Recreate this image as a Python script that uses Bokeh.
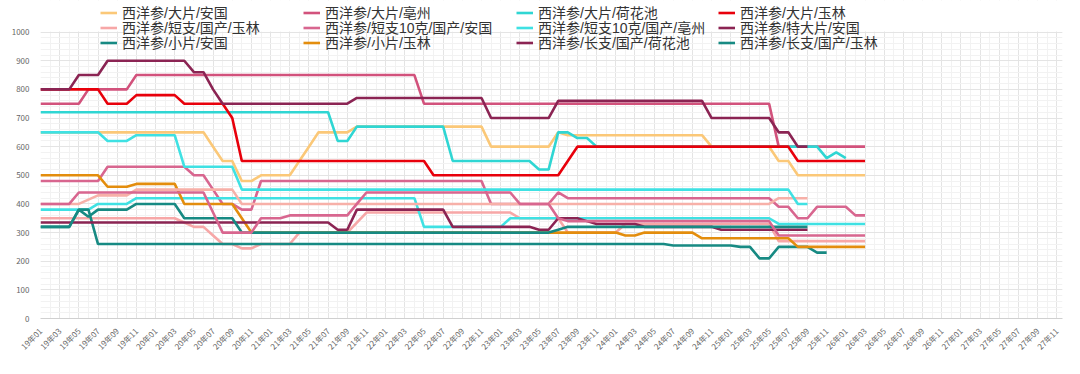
import numpy as np
from math import pi
from bokeh.plotting import figure
from bokeh.models import ColumnDataSource, Legend, LegendItem, Range1d, FixedTicker, BoxAnnotation
from bokeh.embed import file_html
from bokeh.resources import INLINE

# ---- categories (months) ----
months = [f"{y:02d}年{m:02d}" for y in range(19, 28) for m in range(1, 13)]
N = 87  # data through 26年03
x_idx = list(range(N))
_ = None

# ---- series values (元/kg), one value per month from 19年01 ----
s_da_anguo = [650,650,650,650,650,650,650,650,650,650,650,650,650,650,650,650,650,650,
              600,550,550,480,480,500,500,500,500,550,600,650,650,650,650,
              670,670,670,670,670,670,670,670,670,670,670,670,670,670,
              600,600,600,600,600,600,600,650,
              640,640,640,640,640,640,640,640,640,640,640,640,640,640,640,
              600,600,600,600,600,600,600,550,550,
              500,500,500,500,500,500,500,500]
s_da_bozhou = [750,750,750,750,750,800,800,800,800,800,
               850,850,850,850,850,850,850,850,850,850,850,850,850,850,850,850,850,850,850,850,
               850,850,850,850,850,850,850,850,850,850,
               750,750,750,750,750,750,750,750,750,750,750,750,750,750,750,750,750,750,750,750,
               750,750,750,750,750,750,750,750,750,750,750,750,750,750,750,750,750,
               600,600,600,600,600,600,600,600,600,600]
s_da_hehuachi = [720,720,720,720,720,720,720,720,720,720,720,720,720,720,720,720,720,720,720,720,
                 720,720,720,720,720,720,720,720,720,720,720,
                 620,620,670,670,670,670,670,670,670,670,670,670,
                 550,550,550,550,550,550,550,550,550,520,520,650,650,630,630,
                 600,600,600,600,600,600,600,600,600,600,600,600,600,600,600,600,600,600,600,600,
                 600,600,600,600,560,580,560,_,_]
s_da_yulin = [800,800,800,800,800,800,800,750,750,750,780,780,780,780,780,
              750,750,750,750,750,700,
              550,550,550,550,550,550,550,550,550,550,550,550,550,550,550,550,550,550,550,550,
              500,500,500,500,500,500,500,500,500,500,500,500,500,500,550,
              600,600,600,600,600,600,600,600,600,600,600,600,600,600,600,600,600,600,600,600,
              600,600,600,550,550,550,550,550,550,550,550]
s_duan_yulin = [350,350,350,350,350,350,350,350,350,350,350,350,350,350,350,335,320,320,290,
                260,260,245,245,260,260,260,260,300,300,300,300,300,300,335,
                370,370,370,370,370,370,370,370,370,370,370,370,370,370,370,370,
                350,350,350,350,350,300,300,300,300,300,300,
                330,330,330,330,330,330,330,330,330,330,330,330,330,330,330,330,
                270,270,270,270,270,270,270,270,270,270]
s_duan10_anguo = [480,480,480,480,480,480,480,530,530,530,530,530,530,530,530,530,500,500,450,
                  400,400,380,380,
                  480,480,480,480,480,480,480,480,480,480,480,480,480,480,480,480,480,480,480,480,
                  480,480,480,480,
                  400,400,400,400,400,400,400,440,
                  420,420,420,420,420,420,420,420,420,420,420,420,420,420,420,420,420,420,420,420,
                  420,420,390,390,350,350,390,390,390,390,360,360]
s_duan10_bozhou = [380,380,380,380,380,380,400,400,400,400,
                   420,420,420,420,420,420,420,420,420,420,420,420,420,420,420,420,420,420,420,420,
                   420,420,420,420,420,420,420,420,420,420,
                   320,320,320,320,320,320,320,320,320,
                   350,350,350,350,350,350,350,350,350,350,350,350,350,350,350,350,350,350,350,350,
                   350,350,350,350,350,350,350,350,
                   330,330,330,330,330,330,330,330,330,330]
s_teda_anguo = [800,800,800,800,850,850,850,900,900,900,900,900,900,900,900,900,860,860,800,
                750,750,750,750,750,750,750,750,750,750,750,750,750,750,
                770,770,770,770,770,770,770,770,770,770,770,770,770,770,
                700,700,700,700,700,700,700,
                760,760,760,760,760,760,760,760,760,760,760,760,760,760,760,760,
                700,700,700,700,700,700,700,650,650,600,600,_,_,_,_,_,_]
s_xiao_anguo = [320,320,320,320,380,380,
                260,260,260,260,260,260,260,260,260,260,260,260,260,260,260,260,260,260,260,260,
                260,260,260,260,260,260,260,260,260,260,260,260,260,260,260,260,260,260,260,260,
                260,260,260,260,260,260,260,260,260,260,260,260,260,260,260,260,260,260,260,260,
                255,255,255,255,255,255,255,250,250,210,210,250,250,250,250,230,230]
s_xiao_yulin = [500,500,500,500,500,500,500,460,460,460,470,470,470,470,470,
                400,400,400,400,400,400,350,
                300,300,300,300,300,300,300,300,300,300,300,300,300,300,300,300,300,300,300,300,
                300,300,300,300,300,300,300,300,300,300,300,300,300,300,300,300,300,300,300,
                290,290,300,300,300,300,300,300,
                280,280,280,280,280,280,280,280,280,280,
                250,250,250,250,250,250,250,250]
s_chang_hehuachi = [335,335,335,335,335,335,335,335,335,335,335,335,335,335,335,335,335,335,335,335,
                    335,335,335,335,335,335,335,335,335,335,335,310,310,
                    380,380,380,380,380,380,380,380,380,380,
                    320,320,320,320,320,320,320,320,320,310,310,350,350,350,340,
                    330,330,330,330,330,320,320,320,320,320,320,320,320,
                    310,310,310,310,310,310,310,310,310,310,_,_,_,_,_,_]
s_chang_yulin = [320,320,320,320,380,355,380,380,380,380,400,400,400,400,400,
                 350,350,350,350,350,350,
                 300,300,300,300,300,300,300,300,300,300,300,300,300,300,300,300,300,300,300,300,
                 300,300,300,300,300,300,300,300,300,300,300,300,300,310,
                 320,320,320,320,320,320,320,320,320,320,320,320,320,320,320,320,320,320,320,320,
                 320,320,320,320,320,320,_,_,_,_,_,_]
# further lines drawn in the chart without a legend entry
s_extra_lpink = [400,400,400,400,400,415,430,430,430,430,
                 450,450,450,450,450,450,450,450,450,450,450,
                 400,400,400,400,400,400,400,400,400,400,400,400,400,400,400,400,400,400,400,400,
                 400,400,400,400,400,400,400,400,400,400,400,400,400,400,400,400,400,400,400,400,
                 400,400,400,400,400,400,400,400,400,400,400,400,400,400,400,400,
                 420,420,420,420,_,_,_,_,_,_]
s_extra_cyan = [650,650,650,650,650,650,650,620,620,620,640,640,640,640,640,530,530,530,530,530,530,
                450,450,450,450,450,450,450,450,450,450,450,450,450,450,450,450,450,450,450,450,
                450,450,450,450,450,450,450,450,450,450,450,450,450,450,450,450,450,450,450,450,
                450,450,450,450,450,450,450,450,450,450,450,450,450,450,450,450,450,450,
                400,400,_,_,_,_,_,_]
s_extra_pink = [400,400,400,400,440,440,440,440,440,440,440,440,440,440,440,440,440,440,370,
                300,300,300,300,350,350,350,360,360,360,360,360,360,360,400,
                440,440,440,440,440,440,440,440,440,440,440,440,440,440,440,440,
                400,400,400,400,350,
                340,340,340,340,340,340,340,340,340,340,340,340,340,340,340,340,340,340,340,340,340,340,
                290,290,290,290,290,290,290,290,290,290]

series = [
    ("西洋参/大片/安国", s_da_anguo, "#fbc878"),
    ("西洋参/大片/亳州", s_da_bozhou, "#d2527c"),
    ("西洋参/大片/荷花池", s_da_hehuachi, "#2fd6d3"),
    ("西洋参/大片/玉林", s_da_yulin, "#e8000b"),
    ("西洋参/短支/国产/玉林", s_duan_yulin, "#f7a7a7"),
    ("西洋参/短支10克/国产/安国", s_duan10_anguo, "#d8668f"),
    ("西洋参/短支10克/国产/亳州", s_duan10_bozhou, "#3fe1e3"),
    ("西洋参/特大片/安国", s_teda_anguo, "#8b2453"),
    ("西洋参/小片/安国", s_xiao_anguo, "#178a83"),
    ("西洋参/小片/玉林", s_xiao_yulin, "#e38d0d"),
    ("西洋参/长支/国产/荷花池", s_chang_hehuachi, "#8b2453"),
    ("西洋参/长支/国产/玉林", s_chang_yulin, "#178a83"),
]
extras = [
    (s_extra_lpink, "#f7b0a8"),
    (s_extra_cyan, "#3fe1e3"),
    (s_extra_pink, "#d8668f"),
]

# frame reaches the top of the canvas so that the legend (drawn inside the
# frame) is not clipped; the value axis still shows 0-1000 only.
p = figure(width=1064, height=358, x_range=Range1d(0, 106.6), y_range=Range1d(0, 1110.3),
           output_backend="svg", toolbar_location=None,
           min_border_left=40, min_border_right=2, min_border_top=0, min_border_bottom=36)
p.outline_line_color = None
p.background_fill_color = "white"
p.border_fill_color = "white"

p.xaxis.ticker = FixedTicker(ticks=list(range(0, 107, 2)), minor_ticks=list(range(0, 107)))
p.xaxis.major_label_overrides = {i: months[i] for i in range(0, 107, 2)}
p.xaxis.major_label_orientation = pi / 4
p.yaxis.ticker = FixedTicker(ticks=list(range(0, 1001, 100)), minor_ticks=list(range(0, 1001, 20)))
for ax in (p.xaxis[0], p.yaxis[0]):
    ax.major_tick_line_color = None
    ax.minor_tick_line_color = None
    ax.major_label_text_font_size = "8px"
    ax.major_label_text_color = "#666666"
    ax.major_label_text_font = "Noto Sans CJK SC"
    ax.major_label_standoff = 5
p.yaxis.axis_line_color = None
p.xaxis.axis_line_color = "#d0d0d0"
p.xgrid.grid_line_color = "#e4e4e4"
p.ygrid.grid_line_color = "#e4e4e4"
p.xgrid.minor_grid_line_color = "#f2f2f2"
p.ygrid.minor_grid_line_color = "#f2f2f2"

renderers = []
for name, vals, col in series:
    y = np.array([np.nan if v is None else v for v in vals], dtype=float)
    src = ColumnDataSource(dict(x=x_idx, y=y))
    r = p.line("x", "y", source=src, line_width=2.6, line_color=col)
    renderers.append((name, r))
for vals, col in extras:
    y = np.array([np.nan if v is None else v for v in vals], dtype=float)
    src = ColumnDataSource(dict(x=x_idx, y=y))
    p.line("x", "y", source=src, line_width=2.6, line_color=col)

# blank band above the 1000 line (no grid there in the original)
p.add_layout(BoxAnnotation(bottom=1002, fill_color="white", fill_alpha=1.0, line_color=None))

# one single-entry legend per cell of the 4 x 3 legend grid
cols_x = [60, 263, 476, 678]          # frame x of each legend column
rows_y = [296, 281, 266]              # frame y (from bottom) of each legend row box
for r in range(3):
    for c in range(4):
        name, rend = renderers[c + 4 * r]
        leg = Legend(items=[LegendItem(label=name, renderers=[rend])],
                     location=(cols_x[c], rows_y[r]), orientation="vertical",
                     glyph_width=17, glyph_height=15, label_standoff=5, label_height=15,
                     spacing=0, padding=0, margin=0, border_line_color=None,
                     background_fill_alpha=0, label_text_font_size="14px",
                     label_text_font="Liberation Sans, Noto Sans CJK SC",
                     label_text_color="#333333")
        p.add_layout(leg, "center")

open("out.html", "w").write(file_html(p, INLINE))
